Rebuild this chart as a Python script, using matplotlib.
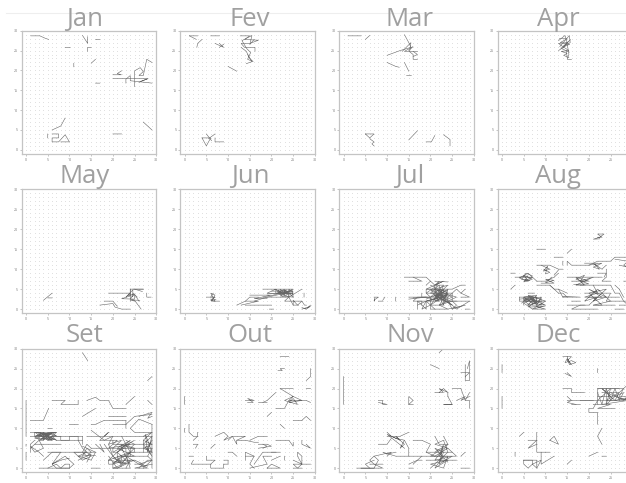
import matplotlib
matplotlib.use("Agg")
import matplotlib.pyplot as plt
import numpy as np

MONTHS = ["Jan", "Fev", "Mar", "Apr", "May", "Jun", "Jul", "Aug", "Set", "Out", "Nov", "Dec"]
TICKS = [0, 5, 10, 15, 20, 25, 30]

JAN = [
 [(1.1,28.7),(3.2,28.7),(4.4,28.1),(5.2,27.8)], [(13,28.8),(14.2,26.8),(14.2,28.5)], [(16,27.8),(17,27.8)],
 [(9,25.8),(10.2,25.8)], [(14.2,24.8),(14.2,25.8),(15,25.8)], [(11,21.8),(11,20.9)], [(15,21.8),(16,22.8)],
 [(16,16.8),(17,16.8)], [(20,18),(28,18)], [(20,18.9),(22,18.9),(21,19.2),(22,19.9)],
 [(23,16.8),(23,17.8),(24,18.7),(24,17.4),(29,16.8)],
 [(25,15.9),(25,19.9),(26.3,20.7),(27,19.7),(26,18.7),(27,18.7),(27.8,22.8),(29,22)],
 [(26,17),(28,17.9),(26.3,17.2)], [(20,4),(22,4)], [(27,7),(29,5)], [(6,5),(8,6),(9,8)], [(5,4),(5,3)],
 [(6,4),(7.5,4),(7.5,3),(6,3),(6,2),(7.5,2),(9,3.8),(10,2),(8,2)],
]
FEV = [
 [(1.1,28.7),(3,28.7)], [(1.1,28.7),(2.7,27.8)], [(4,27.8),(3,26.8),(2.8,25.8)], [(6,28.7),(8,28.7)],
 [(7,26.8),(9,25.8),(8,26.8)], [(8,25.8),(9,26.6)], [(10,21),(12,19.8)],
 [(12.8,28.7),(15,28.7),(13.8,27.8),(17,27.6),(15,26.8),(13,26.8),(13.8,25.8),(16.2,25.8),(16.2,24.8)],
 [(13,25.8),(14.2,24.8),(15,23),(15.8,22.2),(14.5,22.8),(15.2,24.5),(14.3,25.5),(13.2,27.5),(15.5,28.8),(15,26.5),(16,27.8)],
 [(14.5,24),(15.5,22.2),(14.2,21.7)], [(4,3),(6,3),(5,1),(4,3)], [(5,4),(6.2,2.3)], [(5.5,2.8),(7,4)], [(7,3),(7,2),(9,2)],
]
MAR = [
 [(1,28.7),(4,28.7)], [(5,27.8),(6,28.8)], [(14,29),(15,27),(15.5,25.8),(13,25),(10,23.8)], [(15,25),(16,26),(14,24.8),(17,24.8)],
 [(13.5,24.8),(15.5,27),(15.2,24.7),(16,24),(16,22.8),(17,22.8)], [(16,24.8),(17,24),(16,23.5)], [(10,22),(12,21),(12.8,20.8)],
 [(14,22),(15,19.8)], [(14.5,18.7),(15.6,18.7)], [(5,4),(7,4),(6,3),(5,4)], [(6,2.8),(7,2),(6.5,1.5),(7,1)],
 [(15,2.5),(17,4.8)], [(19,2),(20.2,2),(21,3.6)], [(23,3.8),(24.5,2.6),(24.5,1)],
]
APR = [
 [(13,27.5),(14.5,28.8),(15,27),(13,26.8),(14,26),(15.8,27.8),(14,25.7),(13,25)],
 [(13.3,26),(15.5,28.8),(15.7,27),(14,26),(15.4,25),(13.6,24.8),(15,24.3),(14.2,23.8),(15.4,23.2)],
 [(14,25.6),(15,26.8),(15.4,24),(15,22.8),(16,22.8)], [(14.8,25),(15,23.2)],
 [(13.2,28),(15,28),(13.4,27),(15.6,26.6),(13.5,25.6),(15.5,24.6)],
]
MAY = [
 [(4,2.2),(6,4)], [(5,2.8),(6,2.8)], [(19,4),(22,4),(24,4),(23,3),(24.6,4.8),(24.6,3.2),(23.5,3.5),(25,3.8),(24,2.6),(25,2.2),(26.5,0)],
 [(24,5),(27,5)], [(24,5),(24,3.3),(22,2.6),(25,2.5),(25,3.7),(26,2)], [(25,2),(24,2.3),(26.2,2.2)], [(24.6,4),(25.6,3)],
 [(24,5),(24,2)], [(24.6,5),(27,5)], [(25,5),(26.8,4.4)], [(27.8,4),(27.8,3),(28.8,3)],
 [(17,1),(20,1.4),(20.5,0.5),(22,0),(24,0)], [(18,2),(20,2),(21,0.7)],
]
JUN = [
 [(5,3),(7,3),(6,2.2),(7,2),(6,4),(7,3.5),(6.2,2),(8,2)], [(6,3),(6.6,4)], [(6,2.5),(7.2,2.4)],
 [(18,5),(25,5),(23,4),(25,3.8),(19,4),(21,5),(22,3.6),(24.8,4.7),(25,3),(22,3.3),(24.2,4.6),(20,3.4)],
 [(19,3.8),(25,4.4),(19,3),(16,2)], [(18,3),(24,3),(23,2),(25,2),(25,1)], [(12,1),(14,2),(15,3),(17,3)], [(13,1),(17,2),(14,2)],
 [(14,1),(20,1)], [(19.5,0),(20.5,0)], [(25,2),(27,2),(26,1),(25,2.2)], [(26.2,1),(25,1),(24,3)], [(25,3),(24,4),(24,3),(27,5)], [(27,2),(27.6,1),(28,1)],
 [(27,0),(29,0.7),(28,0),(29,1)], [(27,0.4),(28,0),(27.5,0.2)], [(27.5,4),(27.5,3)], [(22,4.8),(25,4.2),(24,5),(24,3),(22,4.2),(23.5,4.8)],
 [(20,4.5),(24,4.5),(21,3.8),(23,5),(23,3.5),(21.5,4.8),(22.5,3.2),(24,3.8)], [(21,4),(21,5),(22,4),(22,5),(23,4)], [(15,3.5),(20,3.5),(16,2.6),(19,2.6)],
]
JUL = [
 [(7,3),(8,3),(7.2,2.4),(7,2),(7.2,2.8)], [(8,2),(9,2)], [(9,2.2),(9.5,3)], [(12,3),(12,2)], [(15,2.5),(19,3),(16,2.8)],
 [(14,8),(19,8),(20,7)], [(15,7),(18,7),(16,8)], [(19,6),(20,7),(21,6),(22,7),(21,5),(24,6),(23,5),(25,5),(27,6),(28,6)],
 [(21,6),(23,7),(19,5),(22,5),(24,4),(21,3),(23,5),(21,2),(23,3),(21,4),(24,3),(20,4),(22,6),(23,2),(25,3),(21,5),(23,1),(24,5),(20,2)],
 [(19,3),(22,2),(20,5),(24,2),(22,4),(20,1),(24,4),(22,1),(26,3),(23,4),(20,3),(23,6),(22,3),(25,1),(21,3.5),(24,3.5),(19,2),(23,3.2)],
 [(17,1),(19,2),(18,0),(20,1),(20,0),(24,0),(22,1),(25,2),(26,1),(25,0),(24,2),(26,0),(29,2)],
 [(17,0),(17,2),(19,0),(19,2),(21,0)], [(15,3),(23,3)], [(24,0),(28,1),(25,0)], [(27,3),(29,3),(27,4),(28,5)], [(25,2),(29,2)],
 [(28,0),(29,0)], [(21,7),(24,6.8)], [(24,3),(26,5),(27,4)], [(20,6),(21,5.5),(19,4),(20,3),(19,2.5)], [(21.5,2),(22,5),(22.5,2),(23,5),(21,4.5),(24,2.5)],
 [(21,2.8),(23.5,2.2),(21.5,4.8),(24,4.6),(20.5,3.2),(22.5,4.2),(21.2,3.2),(22.7,3.7)],
 [(18,4),(18,3),(20,3),(20,2),(22,2),(22,3),(24,3),(24,2),(25,2),(25,4),(23,4),(23,5),(21,5),(21,4),(19,4),(19,5),(21,5),(21,6),(23,6)],
 [(17,2),(20,2),(20,1),(23,1),(23,2),(26,2)], [(18,1),(18,2),(16,2),(17,3),(19,3)],
]
AUG = [
 [(4,3),(8,3),(5,2),(9,2),(6,1),(8,3.5),(5,3),(7,1.5),(10,1),(7,2.5),(5,1.5),(7,0),(10,2),(6,3.5),(8,1),(9,3),(4,2.5)],
 [(4.5,1.5),(6,2.8),(8,1.5),(6.5,3.2),(9,2.5),(6,0.5),(8,2.2),(5,2.5),(6.5,0.5),(10,0.8),(7,0),(10,0),(8,0.6),(8,2.8),(6,1.2)],
 [(6,4),(7.5,4)], [(2,9),(3,9)], [(3,8),(7,8),(5,7),(7,7.5),(5,8.5),(6,7),(4,7.8),(6,9),(7,8),(8,7)], [(4,8),(6,8.3),(5,6.8),(6.5,7.2),(4.5,7.4),(5.5,9),(7,8.3)],
 [(2,5),(3,6)], [(8,7),(10,7),(12,8),(13,9)], [(9,6.5),(12,6.5),(10,7.5),(12,7.2),(10,6.6),(11.5,8)],
 [(8,11),(11,11),(13,10),(14,10)], [(9,11),(11,10),(9.5,9.5),(10.5,10.8),(10,8.8),(11,9.2),(9.6,10)], [(12,8.5),(13,9.8)],
 [(8,15),(10,15)], [(12,13),(14,13)], [(15,14),(16,15)], [(22,18),(23,18),(22,18.8),(23.5,18.8),(22.5,18),(21,17.5),(22.5,17.6)],
 [(15,11),(15,12),(16,11),(20,11),(22,12),(25,12),(26,13),(29,13)], [(20,11),(23,11.5),(21,10.5),(22.5,10),(21,11.5),(23,10),(24,11)], [(19,11.5),(22,11.5)],
 [(24,10),(24,8),(23,7),(25,7)], [(26,12.5),(29,12),(28,11),(29,10.5),(27,11)], [(22,9),(24,9),(23.5,8)],
 [(15,8),(23,8)], [(16,7),(20,7),(17,8),(19,6),(17,6),(21,8),(18,7),(19,8.5),(17,7.5),(20,6.3),(16.5,6.2)],
 [(18,6),(25,6),(26,4),(27,4),(28,2),(29,1)], [(21,6),(22,4),(19,3),(23,3),(20,5),(24,3),(21,2),(24,5),(20,4),(23,1),(21,1),(25,2),(22,5),(19,2),(22,3),(20,1),(18,1),(16,0),(22,0)],
 [(19,4),(25,4),(24,2),(29,2),(29,1),(27,1)], [(20,3),(27,3)], [(21,1),(26,1)], [(26,0),(28,0)], [(15,1),(19,1)], [(14,3),(18,3),(14,3.2)],
 [(16,2),(18,2)], [(8,6),(11,6),(12,5),(13,5),(14,3)], [(13,4),(14,4),(15,3)], [(13,5),(15,4)], [(11,6),(13,4)],
 [(14,11),(14,12)], [(28,7),(29,7)], [(27,5),(28,3)], [(26,6),(27,5)],
 [(4,3),(4,2),(6,2),(6,3),(8,3),(8,2),(10,2)], [(5,1),(5,3),(7,3),(7,1),(9,1),(9,3)],
]
SET = [
 [(0,17),(0,8)], [(0,5.5),(0,6)], [(0,2),(0,4)], [(1,12),(4,12),(5.2,15)], [(6,17),(9,17),(8,16),(12,16),(12,17)], [(14,17),(16,17.8),(17,17),(19,17),(20,15),(23,15)],
 [(13,29),(14.2,27)], [(28,22),(29,23)], [(23,16),(25,18)], [(28,17),(29,16)], [(13,13),(16,15)], [(10,11),(12,11)],
 [(15,11),(16,11),(18,12),(20,12),(23,12),(23,10)], [(19,13),(23,13)], [(20,11),(23,11)], [(23,11),(25,13),(29,13.5)], [(26,13),(29,14),(28,12.5),(29,13)],
 [(29,11),(26,12.3),(24,10),(25,9),(29,9)], [(1,9),(7,9),(2,8),(6,8.8),(3,7),(7,8.2),(2,9),(5,7),(7,9),(3,8.5),(6,7),(4,9),(4,7),(5.5,8.5),(2,7.5),(6.5,7.2),(3,9),(7,7)],
 [(1,8),(13,8)], [(7,7),(13,7)], [(13,8),(13,6)], [(5,10),(6,10)], [(1,4),(1,6),(2,7)], [(1,5),(3,7),(4,5),(2,4),(1,5.5),(3,4),(4,3)],
 [(2,6),(8,6)], [(4,2),(6,4),(8,4),(6,1),(9,3),(11,1),(10,0),(7,0),(6,1),(8,2),(10,2.5)], [(3,0),(10,0)], [(5,4),(16,4)], [(15,0),(17,0)],
 [(12,7),(13,5),(15,3),(13,2),(11,4),(14,4),(12,3),(15,2),(16,4),(13,5.5)], [(12,3),(16,3.2)], [(12,2),(15,3.5),(14,1.5)], [(15,9.5),(18,7),(20,8),(19,6),(22,7),(20,5)],
 [(15,5),(29,5)], [(14,8),(29,8)], [(17,7),(21,7),(19,5),(24,6),(21,4),(23,2),(20,1),(22,3),(25,3),(21,5),(24,7),(20,3),(22,1),(24,4),(19,2),(24,1),(22,5),(25,7),(20,4)],
 [(22,8),(24,4),(21,2),(25,2),(20,0),(24,0),(23,3),(26,1),(28,0),(25,0),(29,1)], [(19,3),(21,0),(23,1),(20,2.5)], [(21,6),(29,6)], [(18,6),(20,3),(19,6)], [(24,4),(29,4)], [(22,3),(28,3)],
 [(27,8),(29,9),(27,7),(29,6),(27,5),(29,4),(27.5,8.5),(28,4),(29,8),(27,6),(29,3),(28,5),(29,7)], [(29,11),(29,0)], [(27,0),(29,2),(26,1),(28,0.5)],
 [(25,2),(27,1),(25,1)], [(27,7),(27,4)], [(16,6),(18,4),(17,6)], [(18,8),(19,9),(17,7)],
 [(2,9),(2,8),(3,8),(3,9),(4,9),(4,8),(5,8),(5,9),(6,9),(6,7),(5,7),(5,8),(3,8),(3,7),(4,7)],
 [(6,9),(7,8),(6,8),(7,7),(6,7.5),(5,8.5),(4,7.5),(3,8.7),(2,7.8),(3,7.2)], [(7,8),(8,8),(8,7),(10,7),(10,8),(12,8),(12,7)],
 [(20,7),(20,6),(22,6),(22,5),(23,5),(23,4),(25,4),(25,5),(24,5),(24,3),(22,3),(22,2),(21,2),(21,4),(20,4),(20,5)],
 [(23,7),(25,6),(24,5),(22,6),(25,5),(23,3),(21,3),(22,1),(24,2),(23,0)], [(19,2),(20,3),(21,2),(20,1),(19,1),(19,2)],
 [(20,0),(20,1.5),(21.5,1.5),(22,0.5),(21,0),(20,0)], [(26,0),(27,1),(28,2),(29,2),(28,3),(29,5)], [(13,3),(14,5),(15,4),(14,3),(13,4),(14,6),(15,5)],
 [(5,0),(6,0.5),(7,1),(8,0),(9,1),(10,1),(10,0)],
]
OUT = [
 [(22,28),(24,28)], [(21.5,24.5),(22.5,24.5),(22,25),(23,25)], [(28,22),(29,23),(29,25)], [(22,20),(25,20)], [(28,20),(29,20)], [(0,16),(0,18)],
 [(0,9),(0,10)], [(14,17),(16,17),(14.5,17.5),(15.8,16.5),(14.5,16.5)], [(18,16.5),(19,17),(20,18),(21,19)], [(17,16.5),(19,16.5)],
 [(22,20),(25,18),(23,17),(26,16),(25,17.5),(24,16.5),(27,17),(25,18),(24,17),(28,17),(29,16.5)], [(21,15),(23,15),(24,17)], [(19,13),(20,14)], [(27,12),(28,13),(29,12)],
 [(22,11),(23,10)], [(25,12),(27,12)], [(1,11),(1,9),(2,8),(3,8)], [(2,7),(3,8),(3,9)], [(2,6),(3,6),(2.5,5)], [(1,3),(2,3)], [(6,5),(7,6)],
 [(7,8),(9,9),(10,8),(9,7),(11,8),(14,8),(12,7),(14,7),(16,6.5),(17,6.5)], [(10,7),(11,8),(12,6),(12,7)], [(15,7),(17,8),(19,8)], [(17,6),(19,6),(20,5.5),(17,5)],
 [(18,6),(19,5.5),(18,5)], [(21,7),(24,7),(25,5.5),(25,6.5)], [(27,7),(27,6),(29,5),(28,6)], [(10,4),(11,4),(12,3)], [(2,2),(1.5,1),(6,1),(6,0),(9,0),(9,1)],
 [(5,3),(5,2),(7,2),(6,1)], [(9,2),(10,2),(10,1),(9,1)], [(14,2),(14,4),(16,3),(15,1),(16,0)], [(14,3),(16,3)], [(16,1),(18,4),(21,4)], [(15,0),(19,1),(18,3),(20,3)],
 [(19,0),(22,0),(20,1),(19,0)], [(20,2),(22,3)], [(25,2),(27,1),(26,3),(26,4),(27,3),(27,1),(26,0),(25,1),(29,1)], [(25,0),(27,0)], [(23,2),(23,3)], [(20,4),(22,4)],
]
NOV = [
 [(22,29),(23,30)], [(20,26),(22,25)], [(28,26),(28,23),(29,24),(29,22),(28,22),(28,23)], [(27,24),(29,24),(29,27),(28.5,25)], [(0,16),(0,23)],
 [(21,19),(23,19),(22,20),(24,19),(23,20),(22,19)], [(25,20),(27,20)], [(24,18),(25,16),(23,16),(25,16)], [(24,19),(24,18)], [(26,17),(28,18),(27,17),(29,18)],
 [(27,20),(28,17),(29,19)], [(28,17),(29,17),(29,15)], [(8,17),(9,17),(9,16),(10,16),(8,16.5)], [(15,16),(15,18),(16,17),(15,16),(16,16)],
 [(10,8),(13,8),(15,9)], [(10,9),(11,8),(13,7),(12,8),(14,6),(13,5),(14,7),(12,7.5),(10,8.5),(14,5)], [(8,6),(10,6),(11,7.5)], [(14,7),(15,5),(15,3),(12,3),(9,4),(10,3.5),(12,4)],
 [(7,3),(11,4),(10,3)], [(16,7),(18,7),(20,6),(19,4),(21,3),(24,5),(21,6),(23,7),(24,4),(22,2),(24,2),(20,1),(23,0),(24,3),(20,3),(23,5),(21,2),(25,3),(22,1)],
 [(19,4),(25,4)], [(18,3),(26,3),(24,5)], [(21,4),(24,6),(22,3),(23,6),(22,1),(23,4),(21,5),(24,1.5)], [(20,0),(23,3),(21,0),(24,2)], [(16,1),(18,3),(15,3)],
 [(21,8),(22,6),(24,6)], [(23,8),(24,6)], [(27,3),(28,4)], [(27,0),(29,0)], [(15,0),(16,0)], [(19,2),(26,2)],
 [(3,0),(9,0),(7,1),(6,2),(7,3),(8,2),(7,0),(4,0)], [(6,0),(5,1),(7,2)], [(6,1),(9,1)], [(15,1),(17,2),(18,2)],
]
DEC = [
 [(14,28),(15,28),(16,28),(15,27),(16,26),(15,27.5),(14.5,26.5),(16,27),(17,26.5),(15.5,26),(15,28)], [(15,24),(16,23),(14.5,23.8)], [(0,24),(0,26)], [(0,15),(0,18)],
 [(14,20),(16,20),(16,19),(19,19)], [(15,18),(16,17),(15,16.5),(17,16)], [(15,17),(21,17)], [(16,16),(18,16)], [(18,17),(22,17),(21,15),(20,15),(20,14),(22,14),(22,11)],
 [(21,16),(25,16),(22,15),(26,15)], [(22,20),(28,20),(27,18),(29,18),(28,17),(30,18),(26,17),(27,19),(24,17),(28,17),(25,19)], [(23,19),(27,19),(29,21),(30,23)],
 [(22,18),(25,18),(23,20),(26,17),(22,17),(25,20),(24,16),(26,18),(24,19)], [(22,19),(23,16),(24,20),(24,16)], [(22,16),(22,20),(27,20)], [(22,25),(22,24)], [(23,16),(29,17)],
 [(23,10),(22,8),(23,6)], [(20,3),(22,4)], [(23,3),(24,3)], [(4,8),(5,9)], [(6,7),(8,7),(8,4),(10,4)], [(8,9),(8,7),(6,5),(8,6)], [(11,7),(12,8),(13,6),(11,7)],
 [(3,3),(3,4)], [(5,2),(7,2),(7,1),(9,2),(8,0),(7,1),(6,0),(5,1),(5,2)], [(5,2),(8,2),(8,0)], [(9,4),(9,1),(12,3)], [(10,4),(11,4)], [(15,1),(16,2)],
 [(24,20),(25,17),(26,20),(27,17),(28,19),(26,18),(29,17),(27,17.5)],
]
PANELS = [JAN, FEV, MAR, APR, MAY, JUN, JUL, AUG, SET, OUT, NOV, DEC]

W, H = 626, 483
LEFTS = [21.7, 180.3, 339.3, 497.7]
AX_W = 134.6
ROWS = [(30.7, 154.0), (189.3, 313.3), (348.7, 472.3)]
TITLE_X = [85, 250, 410, 558]
TITLE_BASE = [26, 183, 342]

plt.rcParams["font.family"] = ["Open Sans", "DejaVu Sans"]
fig = plt.figure(figsize=(W / 100, H / 100), dpi=100)
fig.add_artist(plt.Line2D([6 / W, 1], [1 - 13 / H] * 2, color="#eeeeee", lw=0.8, transform=fig.transFigure))

gx, gy = np.meshgrid(np.arange(0, 31), np.arange(0, 31))
for i, (name, lines) in enumerate(zip(MONTHS, PANELS)):
    r, c = divmod(i, 4)
    top, bot = ROWS[r]
    ax = fig.add_axes([LEFTS[c] / W, 1 - bot / H, AX_W / W, (bot - top) / H])
    ax.set_xlim(-1, 30)
    ax.set_ylim(-1.05, 30)
    ax.scatter(gx.ravel(), gy.ravel(), s=0.3, c="#d4d4d4", linewidths=0, zorder=1)
    for ln in lines:
        xs, ys = zip(*ln)
        ax.plot(xs, ys, color="#666666", lw=0.4, solid_joinstyle="miter", snap=False, zorder=2)
    ax.set_xticks(TICKS[:-1] if c == 3 else TICKS)
    ax.set_yticks(TICKS)
    ax.tick_params(length=1.5, width=0.4, color="#999999", labelsize=2.6, labelcolor="#777777", pad=1.2)
    for s in ax.spines.values():
        s.set_color("#c4c4c4")
        s.set_linewidth(0.9)
    fig.text(TITLE_X[c] / W, 1 - TITLE_BASE[r] / H, name, ha="center", va="baseline",
             fontsize=18.5, color="#a0a0a0")

fig.savefig("out.png", dpi=100)
